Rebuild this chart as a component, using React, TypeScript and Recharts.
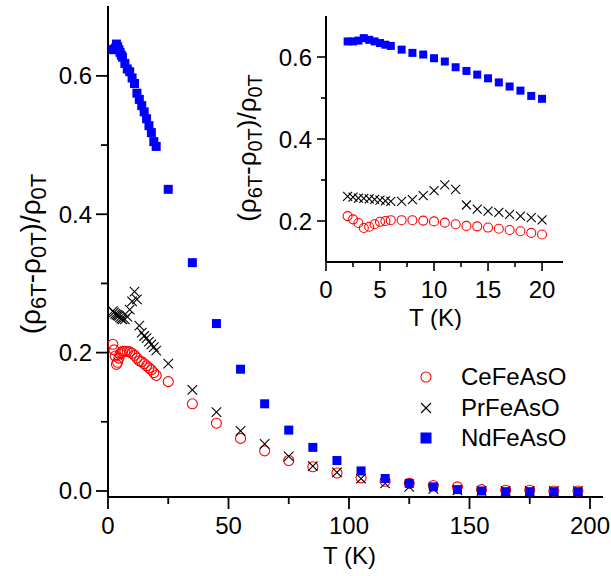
import { ScatterChart, Scatter, XAxis, YAxis, Legend, Label } from "recharts";

const FONT = "'Liberation Sans', Arial, Helvetica, sans-serif";

// temperatures (K)
const tLow = [2, 2.5, 3, 3.5, 4, 4.5, 5, 5.5, 6, 7, 8, 9, 10, 11, 12, 13, 14, 15, 16, 17, 18, 19, 20];
const tHigh = [25, 35, 45, 55, 65, 75, 85, 95, 105, 115, 125, 135, 145, 155, 165, 175, 185, 195];

// (rho6T - rho0T) / rho0T
const ceLow = [0.212, 0.204, 0.195, 0.183, 0.186, 0.192, 0.198, 0.2, 0.202, 0.202, 0.202, 0.201, 0.199, 0.196, 0.192, 0.188, 0.187, 0.184, 0.181, 0.178, 0.175, 0.171, 0.167];
const prLow = [0.26, 0.258, 0.256, 0.255, 0.254, 0.253, 0.251, 0.249, 0.248, 0.248, 0.252, 0.262, 0.274, 0.288, 0.277, 0.239, 0.229, 0.224, 0.221, 0.216, 0.212, 0.208, 0.203];
const ndLow = [0.638, 0.638, 0.64, 0.646, 0.642, 0.638, 0.634, 0.63, 0.627, 0.618, 0.61, 0.606, 0.597, 0.589, 0.575, 0.566, 0.557, 0.548, 0.538, 0.528, 0.518, 0.505, 0.498];

const ceHigh = [0.158, 0.126, 0.098, 0.076, 0.058, 0.044, 0.035, 0.026, 0.019, 0.014, 0.011, 0.008, 0.006, 0.002, 0.001, 0.001, 0, 0];
const prHigh = [0.184, 0.146, 0.114, 0.087, 0.068, 0.05, 0.036, 0.027, 0.018, 0.011, 0.006, 0.003, 0.001, 0, 0, 0, 0, 0];
const ndHigh = [0.436, 0.33, 0.242, 0.176, 0.126, 0.088, 0.063, 0.044, 0.029, 0.018, 0.011, 0.006, 0.002, 0, -0.001, -0.001, -0.001, -0.001];

const mainXTicks = [0, 25, 50, 75, 100, 125, 150, 175, 200];
const mainYTicks = [0, 0.1, 0.2, 0.3, 0.4, 0.5, 0.6];
const insetXTicks = [0, 2.5, 5, 7.5, 10, 12.5, 15, 17.5, 20];
const insetYTicks = [0.2, 0.3, 0.4, 0.5, 0.6];

const toPts = (ts: number[], vs: number[]) => ts.map((T, i) => ({ T, v: vs[i] }));

const ce = toPts(tLow.concat(tHigh), ceLow.concat(ceHigh));
const pr = toPts(tLow.concat(tHigh), prLow.concat(prHigh));
const nd = toPts(tLow.concat(tHigh), ndLow.concat(ndHigh));
const ceIn = toPts(tLow, ceLow);
const prIn = toPts(tLow, prLow);
const ndIn = toPts(tLow, ndLow);

const series = [
  { name: "CeFeAsO", kind: "circle", color: "#ff0000" },
  { name: "PrFeAsO", kind: "cross", color: "#000000" },
  { name: "NdFeAsO", kind: "square", color: "#0000ff" },
];

function Marker({ kind, cx, cy, s }: { kind: string; cx: number; cy: number; s: number }) {
  if (kind === "circle")
    return <circle cx={cx} cy={cy} r={s / 2} fill="none" stroke="#ff0000" strokeWidth={1.1} />;
  if (kind === "cross") {
    const h = s / 2;
    return (
      <g stroke="#000" strokeWidth={1.1}>
        <line x1={cx - h} y1={cy - h} x2={cx + h} y2={cy + h} />
        <line x1={cx - h} y1={cy + h} x2={cx + h} y2={cy - h} />
      </g>
    );
  }
  return <rect x={cx - s / 2} y={cy - s / 2} width={s} height={s} fill="#0000ff" />;
}

const shape = (kind: string, s: number) => (p: any) => <Marker kind={kind} cx={p.cx} cy={p.cy} s={s} />;

// tick with major/minor marks drawn by hand
function makeTick(o: {
  side: "bottom" | "left" | "top" | "right";
  isMajor: (v: number) => boolean;
  fmt?: (v: number) => string;
  major: number;
  minor: number;
  out: boolean;
  fontSize?: number;
  gap?: number;
  sw?: number;
}) {
  return (p: any) => {
    const v = p.payload.value;
    const big = o.isMajor(v);
    const len = big ? o.major : o.minor;
    const { x, y } = p;
    let line;
    if (o.side === "bottom") line = <line x1={x} x2={x} y1={y} y2={o.out ? y + len : y - len} />;
    else if (o.side === "top") line = <line x1={x} x2={x} y1={y} y2={o.out ? y - len : y + len} />;
    else if (o.side === "left") line = <line x1={x} x2={o.out ? x - len : x + len} y1={y} y2={y} />;
    else line = <line x1={x} x2={o.out ? x + len : x - len} y1={y} y2={y} />;
    let label = null;
    if (big && o.fmt) {
      if (o.side === "bottom")
        label = (
          <text x={x} y={y + (o.gap || 0)} textAnchor="middle" dominantBaseline="central" fontSize={o.fontSize} fontFamily={FONT} fill="#000">
            {o.fmt(v)}
          </text>
        );
      else
        label = (
          <text x={x - (o.gap || 0)} y={y} textAnchor="end" dominantBaseline="central" fontSize={o.fontSize} fontFamily={FONT} fill="#000">
            {o.fmt(v)}
          </text>
        );
    }
    return (
      <g>
        <g stroke="#000" strokeWidth={o.sw || 1.8}>{line}</g>
        {label}
      </g>
    );
  };
}

const near = (a: number, b: number) => Math.abs(a - b) < 1e-6;
const every = (step: number) => (v: number) => near(v / step, Math.round(v / step));

function RhoTitle({ cx, cy, size, sub }: { cx: number; cy: number; size: number; sub: number }) {
  const d = size * 0.3;
  return (
    <text x={cx} y={cy} transform={`rotate(-90, ${cx}, ${cy})`} textAnchor="middle" dominantBaseline="central" fontFamily={FONT} fontSize={size} fill="#000">
      <tspan>(ρ</tspan>
      <tspan fontSize={sub} dy={d}>6T</tspan>
      <tspan dy={-d}>-ρ</tspan>
      <tspan fontSize={sub} dy={d}>0T</tspan>
      <tspan dy={-d}>)/ρ</tspan>
      <tspan fontSize={sub} dy={d}>0T</tspan>
    </text>
  );
}

const axisLine = { stroke: "#000", strokeWidth: 2 };

function LegendBox() {
  return (
    <div style={{ fontFamily: FONT, fontSize: 24, color: "#000", lineHeight: "30.5px" }}>
      {series.map((s) => (
        <div key={s.name} style={{ display: "flex", alignItems: "center", height: 30.5 }}>
          <svg width={26} height={20} style={{ marginRight: 21 }}>
            <Marker kind={s.kind} cx={12} cy={10} s={s.kind === "square" ? 11 : 10} />
          </svg>
          <span>{s.name}</span>
        </div>
      ))}
    </div>
  );
}

export default function App() {
  return (
    <div style={{ position: "absolute", left: 0, top: 0, width: 611, height: 576, background: "#fff" }}>
      <div style={{ position: "absolute", left: 0, top: 0 }}>
        <ScatterChart width={611} height={576} margin={{ top: 6, right: 8, bottom: 0, left: 0 }}>
          <XAxis
            dataKey="T"
            type="number"
            domain={[0, 205.4]}
            ticks={mainXTicks}
            interval={0}
            allowDataOverflow
            height={79}
            axisLine={axisLine}
            tickLine={false}
            tickSize={0}
            tickMargin={0}
            tick={makeTick({ side: "bottom", isMajor: every(50), fmt: (v) => String(v), major: 12, minor: 7, out: true, fontSize: 24, gap: 28 })}
          >
            <Label content={(p: any) => (
              <text x={p.viewBox.x + p.viewBox.width / 2 - 6} y={555} textAnchor="middle" dominantBaseline="central" fontFamily={FONT} fontSize={24}>T (K)</text>
            )} />
          </XAxis>
          <XAxis
            xAxisId="top"
            orientation="top"
            type="number"
            domain={[0, 205.4]}
            ticks={mainXTicks}
            interval={0}
            allowDataOverflow
            height={0}
            mirror
            axisLine={axisLine}
            tickLine={false}
            tickSize={0}
            tickMargin={0}
            tick={makeTick({ side: "top", isMajor: every(50), major: 6, minor: 4, out: false })}
          />
          <YAxis
            dataKey="v"
            type="number"
            domain={[-0.0087, 0.701]}
            ticks={mainYTicks}
            interval={0}
            allowDataOverflow
            width={108}
            axisLine={axisLine}
            tickLine={false}
            tickSize={0}
            tickMargin={0}
            tick={makeTick({ side: "left", isMajor: every(0.2), fmt: (v) => v.toFixed(1), major: 12, minor: 7, out: true, fontSize: 24, gap: 16 })}
          >
            <Label content={() => <RhoTitle cx={30} cy={254} size={28} sub={22} />} />
          </YAxis>
          <YAxis
            yAxisId="right"
            orientation="right"
            type="number"
            domain={[-0.0087, 0.701]}
            ticks={mainYTicks}
            interval={0}
            allowDataOverflow
            width={0}
            mirror
            axisLine={axisLine}
            tickLine={false}
            tickSize={0}
            tickMargin={0}
            tick={makeTick({ side: "right", isMajor: every(0.2), major: 6, minor: 4, out: false })}
          />
          <Scatter name="CeFeAsO" data={ce} shape={shape("circle", 10)} isAnimationActive={false} />
          <Scatter name="PrFeAsO" data={pr} shape={shape("cross", 9.5)} isAnimationActive={false} />
          <Scatter name="NdFeAsO" data={nd} shape={shape("square", 9)} isAnimationActive={false} />
          <Legend
            layout="vertical"
            align="center"
            verticalAlign="middle"
            content={() => <LegendBox />}
            wrapperStyle={{ left: 414, top: 362, width: 190, height: 92 }}
          />
        </ScatterChart>
      </div>

      <div style={{ position: "absolute", left: 230, top: 0 }}>
        <ScatterChart width={340} height={330} margin={{ top: 16, right: 7, bottom: 0, left: 0 }}>
          <XAxis
            dataKey="T"
            type="number"
            domain={[0, 21.94]}
            ticks={insetXTicks}
            interval={0}
            allowDataOverflow
            height={68}
            axisLine={axisLine}
            tickLine={false}
            tickSize={0}
            tickMargin={0}
            tick={makeTick({ side: "bottom", isMajor: every(5), fmt: (v) => String(v), major: 9, minor: 5, out: true, fontSize: 24, gap: 27, sw: 1.6 })}
          >
            <Label content={(p: any) => (
              <text x={p.viewBox.x + p.viewBox.width / 2 - 9} y={317} textAnchor="middle" dominantBaseline="central" fontFamily={FONT} fontSize={24}>T (K)</text>
            )} />
          </XAxis>
          <XAxis
            xAxisId="top"
            orientation="top"
            type="number"
            domain={[0, 21.94]}
            ticks={insetXTicks}
            interval={0}
            allowDataOverflow
            height={0}
            mirror
            axisLine={axisLine}
            tickLine={false}
            tickSize={0}
            tickMargin={0}
            tick={makeTick({ side: "top", isMajor: every(5), major: 4, minor: 3, out: false, sw: 1.4 })}
          />
          <YAxis
            dataKey="v"
            type="number"
            domain={[0.1, 0.7]}
            ticks={insetYTicks}
            interval={0}
            allowDataOverflow
            width={96}
            axisLine={axisLine}
            tickLine={false}
            tickSize={0}
            tickMargin={0}
            tick={makeTick({ side: "left", isMajor: every(0.2), fmt: (v) => v.toFixed(1), major: 9, minor: 5, out: true, fontSize: 24, gap: 14, sw: 1.6 })}
          >
            <Label content={() => <RhoTitle cx={17} cy={148} size={26} sub={20} />} />
          </YAxis>
          <YAxis
            yAxisId="right"
            orientation="right"
            type="number"
            domain={[0.1, 0.7]}
            ticks={insetYTicks}
            interval={0}
            allowDataOverflow
            width={0}
            mirror
            axisLine={axisLine}
            tickLine={false}
            tickSize={0}
            tickMargin={0}
            tick={makeTick({ side: "right", isMajor: every(0.2), major: 4, minor: 3, out: false, sw: 1.4 })}
          />
          <Scatter name="CeFeAsO" data={ceIn} shape={shape("circle", 9)} isAnimationActive={false} />
          <Scatter name="PrFeAsO" data={prIn} shape={shape("cross", 9)} isAnimationActive={false} />
          <Scatter name="NdFeAsO" data={ndIn} shape={shape("square", 8)} isAnimationActive={false} />
        </ScatterChart>
      </div>
    </div>
  );
}
